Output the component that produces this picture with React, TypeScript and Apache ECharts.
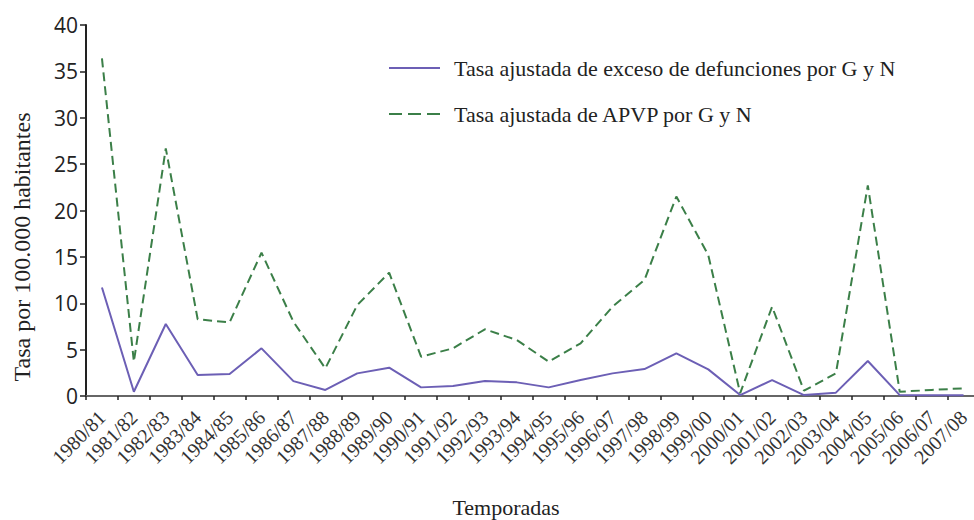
import React, { useEffect, useRef } from "react";
import * as echarts from "echarts";

const categories = [
  "1980/81", "1981/82", "1982/83", "1983/84", "1984/85", "1985/86", "1986/87",
  "1987/88", "1988/89", "1989/90", "1990/91", "1991/92", "1992/93", "1993/94",
  "1994/95", "1995/96", "1996/97", "1997/98", "1998/99", "1999/00", "2000/01",
  "2001/02", "2002/03", "2003/04", "2004/05", "2005/06", "2006/07", "2007/08",
];

const excessRate = [
  11.7, 0.46, 7.76, 2.26, 2.37, 5.14, 1.6, 0.65, 2.44, 3.05, 0.93, 1.08, 1.62, 1.47,
  0.93, 1.72, 2.44, 2.9, 4.6, 2.87, 0.1, 1.72, 0.1, 0.36, 3.77, 0.1, 0.08, 0.08,
];

const apvpRate = [
  36.4, 3.7, 26.7, 8.27, 7.94, 15.45, 8.0, 2.98, 9.8, 13.3, 4.24, 5.14, 7.19, 6.04,
  3.7, 5.68, 9.63, 12.5, 21.5, 15.2, 0.3, 9.63, 0.57, 2.44, 22.7, 0.46, 0.65, 0.83,
];

const seriesNames = [
  "Tasa ajustada de exceso de defunciones por G y N",
  "Tasa ajustada de APVP por G y N",
];

const yAxisTitle = "Tasa por 100.000 habitantes";
const xAxisTitle = "Temporadas";

const SERIF = "'Liberation Serif', 'Times New Roman', serif";
const SANS = "'Open Sans', 'Liberation Sans', sans-serif";

export default function App() {
  const ref = useRef<HTMLDivElement>(null);

  useEffect(() => {
    if (!ref.current) return;
    const chart = echarts.init(ref.current, undefined, { renderer: "svg" });
    chart.setOption({
      animation: false,
      backgroundColor: "#ffffff",
      grid: {
        left: 86,
        top: 25,
        width: 893.5,
        height: 371,
        containLabel: false,
        outerBoundsMode: "none",
      },
      legend: {
        orient: "vertical",
        left: 388,
        top: 57,
        padding: 0,
        itemWidth: 51,
        itemHeight: 24,
        itemGap: 24,
        itemStyle: { opacity: 0 },
        textStyle: {
          fontFamily: SERIF,
          fontSize: 22,
          color: "#222",
          padding: [0, 0, 0, 9],
        },
        data: [
          { name: seriesNames[0] },
          { name: seriesNames[1], lineStyle: { type: [13, 6] } },
        ],
      },
      xAxis: {
        type: "category",
        data: categories,
        boundaryGap: true,
        axisLine: { show: true, lineStyle: { color: "#666", width: 2 } },
        axisTick: { show: true, length: 4, lineStyle: { color: "#222", width: 1.5 } },
        axisLabel: {
          rotate: 45,
          interval: 0,
          margin: 18,
          fontFamily: SERIF,
          fontSize: 20,
          color: "#333",
        },
        splitLine: { show: false },
      },
      yAxis: {
        type: "value",
        min: 0,
        max: 40,
        interval: 5,
        axisLine: { show: true, lineStyle: { color: "#222", width: 2 } },
        axisTick: { show: true, length: 6, lineStyle: { color: "#222", width: 1.5 } },
        axisLabel: { margin: 8, fontFamily: SANS, fontSize: 21, color: "#222" },
        splitLine: { show: false },
      },
      graphic: [
        {
          type: "text",
          x: 22,
          y: 247,
          rotation: Math.PI / 2,
          style: {
            text: yAxisTitle,
            fontFamily: SERIF,
            fontSize: 24,
            fill: "#222",
            align: "center",
            verticalAlign: "middle",
          },
        },
        {
          type: "text",
          x: 506,
          y: 507,
          style: {
            text: xAxisTitle,
            fontFamily: SERIF,
            fontSize: 22,
            fill: "#222",
            align: "center",
            verticalAlign: "middle",
          },
        },
      ],
      series: [
        {
          name: seriesNames[0],
          type: "line",
          data: excessRate,
          symbol: "none",
          lineStyle: { color: "#6c5fb5", width: 2, type: "solid" },
          itemStyle: { color: "#6c5fb5" },
          z: 3,
        },
        {
          name: seriesNames[1],
          type: "line",
          data: apvpRate,
          symbol: "none",
          lineStyle: { color: "#3b7f48", width: 2, type: [9, 5] },
          itemStyle: { color: "#3b7f48" },
          z: 2,
        },
      ],
    });
    return () => chart.dispose();
  }, []);

  return (
    <div
      ref={ref}
      style={{ position: "fixed", left: 0, top: 0, width: 974, height: 520, background: "#fff" }}
    />
  );
}
